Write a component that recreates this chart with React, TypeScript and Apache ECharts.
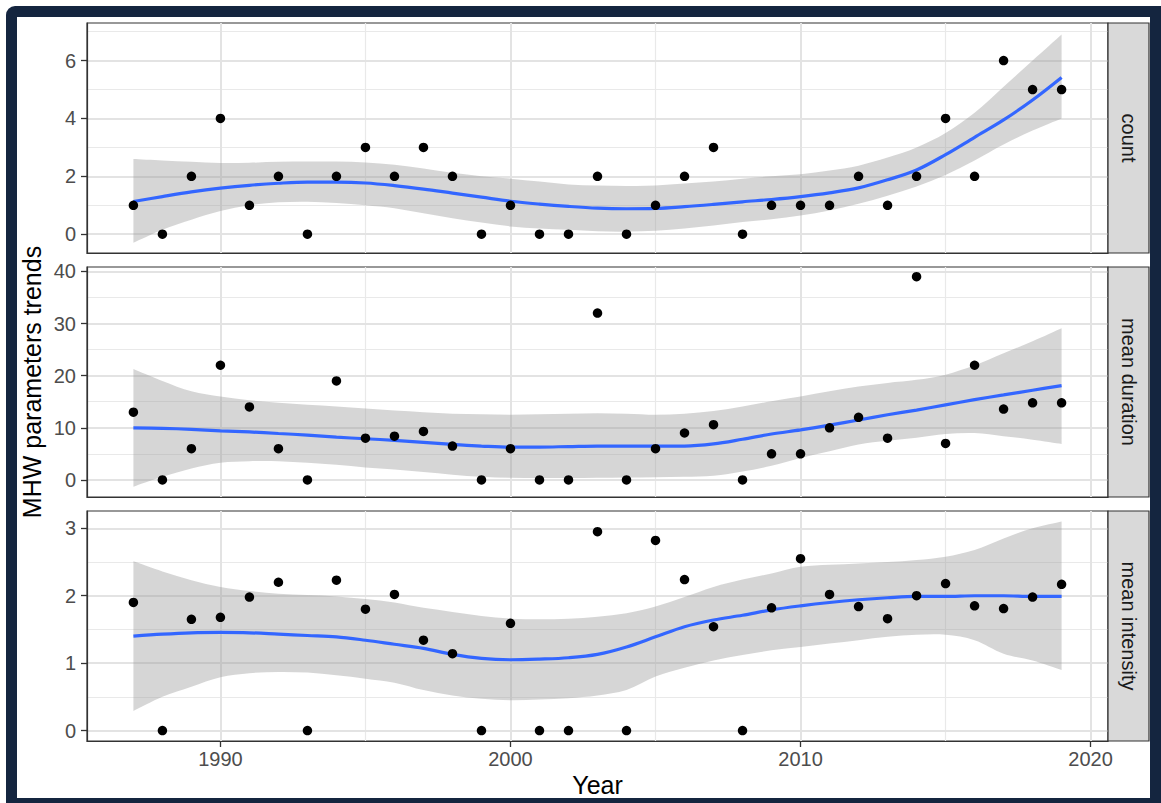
import React, { useEffect, useRef } from "react";
import * as echarts from "echarts";

// ---------- data ----------
const years = [
  1987, 1988, 1989, 1990, 1991, 1992, 1993, 1994, 1995, 1996, 1997, 1998, 1999, 2000, 2001, 2002, 2003,
  2004, 2005, 2006, 2007, 2008, 2009, 2010, 2011, 2012, 2013, 2014, 2015, 2016, 2017, 2018, 2019,
];

const countValues = [1, 0, 2, 4, 1, 2, 0, 2, 3, 2, 3, 2, 0, 1, 0, 0, 2, 0, 1, 2, 3, 0, 1, 1, 1, 2, 1, 2, 4, 2, 6, 5, 5];
const countFit = [
  1.13, 1.3, 1.46, 1.59, 1.69, 1.76, 1.8, 1.8, 1.77, 1.68, 1.56, 1.42, 1.28, 1.14, 1.04, 0.96, 0.9, 0.88,
  0.89, 0.95, 1.03, 1.12, 1.2, 1.3, 1.43, 1.6, 1.88, 2.22, 2.75, 3.35, 3.95, 4.64, 5.42,
];
const countLower = [
  -0.3, 0.15, 0.5, 0.8, 1.0, 1.1, 1.12, 1.08, 1.0, 0.9, 0.72, 0.55, 0.4, 0.27, 0.2, 0.15, 0.1, 0.09, 0.12,
  0.2, 0.3, 0.42, 0.52, 0.65, 0.82, 1.05, 1.33, 1.65, 2.05, 2.55, 3.1, 3.58, 4.0,
];
const countUpper = [
  2.6, 2.55, 2.5, 2.46, 2.47, 2.5, 2.51, 2.51, 2.48, 2.4, 2.27, 2.12, 2.0, 1.92, 1.82, 1.72, 1.68, 1.67,
  1.68, 1.75, 1.82, 1.92, 2.0, 2.07, 2.2, 2.37, 2.65, 3.0, 3.5, 4.2, 5.1, 6.0, 6.9,
];

const durationValues = [
  13, 0, 6, 22, 14, 6, 0, 19, 8, 8.4, 9.3, 6.5, 0, 6, 0, 0, 32, 0, 6, 9, 10.6, 0, 5, 5, 10, 12, 8, 39, 7, 22,
  13.6, 14.8, 14.8,
];
const durationFit = [
  10.0, 9.9, 9.7, 9.4, 9.2, 8.9, 8.6, 8.2, 7.9, 7.6, 7.2, 6.8, 6.5, 6.3, 6.3, 6.4, 6.5, 6.5, 6.5, 6.5, 6.9,
  7.8, 8.8, 9.6, 10.5, 11.5, 12.5, 13.4, 14.4, 15.4, 16.3, 17.2, 18.1,
];
const durationLower = [
  -1.3, 0.6, 2.2, 3.3, 3.6, 3.6, 3.3, 2.9, 2.4, 2.0, 1.5, 1.0, 0.6, 0.4, 0.35, 0.35, 0.4, 0.45, 0.5, 0.6,
  0.8, 1.6, 2.7, 4.2, 5.5, 6.8, 7.5, 8.1, 8.8, 9.0, 8.4, 7.7, 6.9,
];
const durationUpper = [
  21.3, 19.0, 17.0, 16.0, 15.3, 14.8, 14.4, 14.1, 13.7, 13.3, 13.0, 12.7, 12.6, 12.5, 12.6, 12.7, 12.8,
  12.7, 12.5, 12.7, 13.2, 14.1, 15.1, 16.0, 17.0, 17.9, 18.6, 19.2, 20.2, 22.0, 24.3, 26.6, 29.1,
];

const intensityValues = [
  1.9, 0, 1.65, 1.68, 1.98, 2.2, 0, 2.23, 1.8, 2.02, 1.34, 1.14, 0, 1.59, 0, 0, 2.95, 0, 2.82, 2.24, 1.54, 0,
  1.82, 2.55, 2.02, 1.84, 1.66, 2.0, 2.18, 1.85, 1.81, 1.98, 2.17,
];
const intensityFit = [
  1.4, 1.43, 1.45, 1.455, 1.45, 1.43, 1.41, 1.39, 1.34, 1.28, 1.22, 1.13, 1.07, 1.05, 1.06, 1.08, 1.13,
  1.24, 1.39, 1.54, 1.64, 1.71, 1.79, 1.85, 1.9, 1.94, 1.97, 1.99, 1.99, 2.0, 2.0, 1.99, 1.99,
];
const intensityLower = [
  0.29, 0.5, 0.65, 0.79, 0.85, 0.87, 0.86, 0.82, 0.77, 0.71, 0.6, 0.52, 0.47, 0.45, 0.46, 0.48, 0.52, 0.6,
  0.8, 0.93, 1.04, 1.12, 1.19, 1.24, 1.29, 1.34, 1.39, 1.42, 1.42, 1.34, 1.14, 1.04, 0.9,
];
const intensityUpper = [
  2.51, 2.36, 2.23, 2.13, 2.07, 2.03, 2.01, 1.99, 1.95, 1.9, 1.82, 1.76, 1.7, 1.66, 1.65, 1.66, 1.69, 1.74,
  1.84, 1.98, 2.13, 2.24, 2.33, 2.43, 2.46, 2.48, 2.5, 2.53, 2.58, 2.68, 2.85, 3.0, 3.1,
];

const panelLabels = ["count", "mean duration", "mean intensity"];
const xMajorTicks = [1990, 2000, 2010, 2020];
const xMinorBreaks = [1995, 2005, 2015];
const countTicks = [0, 2, 4, 6];
const countMinor = [1, 3, 5, 7];
const durationTicks = [0, 10, 20, 30, 40];
const durationMinor = [5, 15, 25, 35];
const intensityTicks = [0, 1, 2, 3];
const intensityMinor = [0.5, 1.5, 2.5];
const xRange = [1985.4, 2020.6];
const countRange = [-0.65, 7.3];
const durationRange = [-3.28, 40.85];
const intensityRange = [-0.155, 3.257];
const xTitle = "Year";
const yTitle = "MHW parameters trends";

// ---------- style ----------
const FONT = '"Liberation Sans", Arial, Helvetica, sans-serif';
const NAVY = "#14253f";
const GRID_LEFT = 87;
const GRID_WIDTH = 1021;
const GRID_TOPS = [23, 267, 511];
const GRID_H = 230;
const STRIP_W = 41;

const panels = [
  { label: panelLabels[0], vals: countValues, fit: countFit, lo: countLower, hi: countUpper, range: countRange, ticks: countTicks, minor: countMinor },
  { label: panelLabels[1], vals: durationValues, fit: durationFit, lo: durationLower, hi: durationUpper, range: durationRange, ticks: durationTicks, minor: durationMinor },
  { label: panelLabels[2], vals: intensityValues, fit: intensityFit, lo: intensityLower, hi: intensityUpper, range: intensityRange, ticks: intensityTicks, minor: intensityMinor },
];

const majorLine = { color: "#e3e3e3", width: 2, type: "solid" as const };
const minorLine = { color: "#e9e9e9", width: 1.2, type: "solid" as const };

// Catmull-Rom spline through pixel points, as cubic bezier commands
function splineCmds(pts: number[][]): string {
  let d = "";
  for (let i = 0; i < pts.length - 1; i++) {
    const p0 = pts[Math.max(0, i - 1)];
    const p1 = pts[i];
    const p2 = pts[i + 1];
    const p3 = pts[Math.min(pts.length - 1, i + 2)];
    const c1x = p1[0] + (p2[0] - p0[0]) / 6;
    const c1y = p1[1] + (p2[1] - p0[1]) / 6;
    const c2x = p2[0] - (p3[0] - p1[0]) / 6;
    const c2y = p2[1] - (p3[1] - p1[1]) / 6;
    d += ` C ${c1x} ${c1y} ${c2x} ${c2y} ${p2[0]} ${p2[1]}`;
  }
  return d;
}

function buildOption() {
  const grid = panels.map((_, i) => ({
    left: GRID_LEFT,
    width: GRID_WIDTH,
    top: GRID_TOPS[i],
    height: GRID_H,
    show: true,
    borderColor: "#333333",
    borderWidth: 1.2,
    backgroundColor: "transparent",
    containLabel: false,
    outerBoundsMode: "none",
  }));

  const xAxis = panels.map((_, i) => ({
    gridIndex: i,
    type: "value",
    min: xRange[0],
    max: xRange[1],
    z: 6,
    axisLine: { show: true, onZero: false, lineStyle: { color: "#333333", width: 1.2 } },
    axisTick: { show: i === 2, length: 6, customValues: xMajorTicks, lineStyle: { color: "#333333", width: 1.3 } },
    axisLabel: {
      show: i === 2,
      customValues: xMajorTicks,
      formatter: (v: number) => String(Math.round(v)),
      color: "#4d4d4d",
      fontSize: 20,
      fontFamily: FONT,
      margin: 8,
    },
    splitLine: { show: false },
  }));

  const yAxis = panels.map((p, i) => ({
    gridIndex: i,
    type: "value",
    min: p.range[0],
    max: p.range[1],
    z: 6,
    axisLine: { show: true, onZero: false, lineStyle: { color: "#333333", width: 1.2 } },
    axisTick: { show: true, length: 6, customValues: p.ticks, lineStyle: { color: "#333333", width: 1.3 } },
    axisLabel: {
      show: true,
      customValues: p.ticks,
      formatter: (v: number) => String(v),
      color: "#4d4d4d",
      fontSize: 20,
      fontFamily: FONT,
      margin: 11,
    },
    splitLine: { show: false },
  }));

  const series: any[] = [];
  panels.forEach((p, i) => {
    const markData = [
      ...xMinorBreaks.map((v) => ({ xAxis: v, lineStyle: minorLine })),
      ...p.minor.map((v) => ({ yAxis: v, lineStyle: minorLine })),
      ...xMajorTicks.map((v) => ({ xAxis: v, lineStyle: majorLine })),
      ...p.ticks.map((v) => ({ yAxis: v, lineStyle: majorLine })),
    ];
    // confidence band as one filled path through the band rows
    series.push({
      type: "custom",
      xAxisIndex: i,
      yAxisIndex: i,
      data: years.map((y, k) => [y, p.lo[k], p.hi[k]]),
      encode: { x: 0, y: [1, 2] },
      silent: true,
      z: 2,
      renderItem: (params: any, api: any) => {
        if (params.dataIndex !== 0) return null;
        const up = years.map((y, k) => api.coord([y, p.hi[k]]));
        const low = years.map((y, k) => api.coord([y, p.lo[k]])).reverse();
        const d =
          `M ${up[0][0]} ${up[0][1]}` +
          splineCmds(up) +
          ` L ${low[0][0]} ${low[0][1]}` +
          splineCmds(low) +
          " Z";
        return {
          type: "path",
          shape: { pathData: d },
          style: { fill: "rgba(153,153,153,0.4)", stroke: "none" },
        };
      },
    });
    series.push({
      type: "line",
      xAxisIndex: i,
      yAxisIndex: i,
      data: years.map((y, k) => [y, p.fit[k]]),
      symbol: "none",
      smooth: 0.35,
      lineStyle: { color: "#3366FF", width: 3.2 },
      silent: true,
      z: 3,
      markLine: {
        silent: true,
        symbol: ["none", "none"],
        label: { show: false },
        z: 1,
        animation: false,
        emphasis: { disabled: true },
        data: markData,
      },
    });
    series.push({
      type: "scatter",
      xAxisIndex: i,
      yAxisIndex: i,
      data: years.map((y, k) => [y, p.vals[k]]),
      symbolSize: 9.5,
      itemStyle: { color: "#000000", opacity: 1 },
      silent: true,
      z: 4,
    });
  });

  const graphic: any[] = [];
  panels.forEach((p, i) => {
    graphic.push({
      type: "rect",
      z: 10,
      shape: { x: GRID_LEFT + GRID_WIDTH, y: GRID_TOPS[i], width: STRIP_W, height: GRID_H },
      style: { fill: "#d9d9d9", stroke: "#333333", lineWidth: 1.2 },
      silent: true,
    });
    graphic.push({
      type: "text",
      z: 11,
      x: GRID_LEFT + GRID_WIDTH + STRIP_W / 2,
      y: GRID_TOPS[i] + GRID_H / 2,
      rotation: -Math.PI / 2,
      style: {
        text: p.label,
        fill: "#1a1a1a",
        fontSize: 20,
        fontFamily: FONT,
        align: "center",
        verticalAlign: "middle",
      },
      silent: true,
    });
  });
  graphic.push({
    type: "text",
    z: 11,
    x: GRID_LEFT + GRID_WIDTH / 2,
    y: 785,
    style: { text: xTitle, fill: "#000000", fontSize: 25, fontFamily: FONT, align: "center", verticalAlign: "middle" },
    silent: true,
  });
  graphic.push({
    type: "text",
    z: 11,
    x: 32,
    y: (GRID_TOPS[0] + GRID_TOPS[2] + GRID_H) / 2,
    rotation: Math.PI / 2,
    style: { text: yTitle, fill: "#000000", fontSize: 25, fontFamily: FONT, align: "center", verticalAlign: "middle" },
    silent: true,
  });

  return {
    animation: false,
    backgroundColor: "transparent",
    textStyle: { fontFamily: FONT },
    grid,
    xAxis,
    yAxis,
    series,
    graphic,
  };
}

export default function App() {
  const ref = useRef<HTMLDivElement>(null);
  useEffect(() => {
    if (!ref.current) return;
    const chart = echarts.init(ref.current, undefined, { renderer: "svg" });
    chart.setOption(buildOption() as any);
    return () => chart.dispose();
  }, []);
  return (
    <div style={{ position: "fixed", left: 0, top: 0, width: 1161, height: 803, background: "#ffffff", overflow: "hidden" }}>
      <div style={{ position: "absolute", left: 6, top: 6, width: 1155, height: 797, background: NAVY, borderRadius: "9px 0 0 0" }} />
      <div style={{ position: "absolute", left: 17, top: 17, width: 1133, height: 781, background: "#ffffff" }} />
      <div ref={ref} style={{ position: "absolute", left: 0, top: 0, width: 1161, height: 803 }} />
    </div>
  );
}
